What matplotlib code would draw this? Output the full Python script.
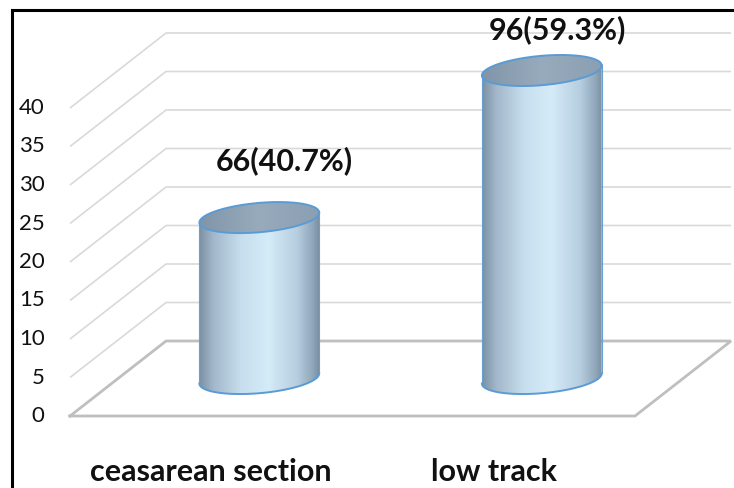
import numpy as np
import matplotlib
matplotlib.use("Agg")
import matplotlib.pyplot as plt
from matplotlib.patches import Polygon
from matplotlib.colors import LinearSegmentedColormap
from matplotlib.lines import Line2D

# data
categories = ["ceasarean section", "low track"]
heights = [20.9, 40.0]
bar_labels = ["66(40.7%)", "96(59.3%)"]
y_ticks = [0, 5, 10, 15, 20, 25, 30, 35, 40]

# layout (x in category units, y in value units)
DX, DY = 0.34, 9.74        # oblique depth offset
R = 0.212                  # cylinder radius (x units)
EH, ES = 1.91, 0.65        # ellipse half height and shear (y units)
label_offsets = [(0.09, 7.35), (0.056, 5.3)]

fig = plt.figure(figsize=(7.34, 4.88), dpi=100)
ax = fig.add_axes([0, 0, 1, 1])
ax.axis("off")

# walls / gridlines
for v in y_ticks[1:]:
    ax.plot([0, DX, 2 + DX], [v, v + DY, v + DY], color="#d9d9d9", lw=1.2,
             solid_capstyle="butt", zorder=1)
ax.plot([0, DX, 2 + DX, 2, 0], [0, DY, DY, 0, 0], color="#bfbfbf", lw=2.0,
        solid_joinstyle="miter", zorder=1)

for v in y_ticks:
    ax.text(-0.09, v, str(v), ha="right", va="center", fontsize=16,
            family="Lato", color="#111111")

body_cmap = LinearSegmentedColormap.from_list("body", [
    (0.0, "#7a90a3"), (0.12, "#a3b8ca"), (0.35, "#c6deee"), (0.58, "#d5ebf8"),
    (0.82, "#b6cee0"), (0.95, "#90a6b9"), (1.0, "#7a90a3")])
cap_cmap = LinearSegmentedColormap.from_list("cap", [
    (0.0, "#8195a8"), (0.5, "#97abbd"), (1.0, "#8b9fb2")])
grad = np.linspace(0, 1, 256).reshape(1, -1)

t = np.linspace(0, 2 * np.pi, 200)
for i, h in enumerate(heights):
    cx = i + 0.5 + DX / 2
    base = DY / 2
    top = h + DY / 2
    # lower half of bottom ellipse (left -> right), upper half of top (right -> left)
    tb = np.linspace(np.pi, 2 * np.pi, 100)
    tt = np.linspace(0, np.pi, 100)
    bx = cx + R * np.cos(tb)
    by = base + ES * np.cos(tb) + EH * np.sin(tb)
    tx = cx + R * np.cos(tt)
    ty = top + ES * np.cos(tt) + EH * np.sin(tt)
    body = Polygon(np.column_stack([np.r_[bx, tx], np.r_[by, ty]]),
                   closed=True, facecolor="none", edgecolor="none")
    ax.add_patch(body)
    im = ax.imshow(grad, cmap=body_cmap, aspect="auto", interpolation="bilinear",
                   extent=[cx - R, cx + R, base - EH - 1, top + EH + 1], zorder=3)
    im.set_clip_path(body)
    # side edges
    ax.plot([cx - R, cx - R], [base - ES, top - ES], color="#6a9fd2", lw=0.8, zorder=4)
    ax.plot([cx + R, cx + R], [base + ES, top + ES], color="#6a9fd2", lw=0.8, zorder=4)
    ax.plot(bx, by, color="#5b9bd5", lw=1.4, zorder=4)
    # top cap
    cap_xy = np.column_stack([cx + R * np.cos(t), top + ES * np.cos(t) + EH * np.sin(t)])
    cap = Polygon(cap_xy, closed=True, facecolor="none", edgecolor="none")
    ax.add_patch(cap)
    imc = ax.imshow(grad, cmap=cap_cmap, aspect="auto", interpolation="bilinear",
                    extent=[cx - R, cx + R, top - EH - 1, top + EH + 1], zorder=5)
    imc.set_clip_path(cap)
    ax.plot(cap_xy[:, 0], cap_xy[:, 1], color="#5b9bd5", lw=1.4, zorder=6)

    ox, oy = label_offsets[i]
    ax.text(cx + ox, top + oy, bar_labels[i], ha="center", va="center",
            fontsize=22, fontweight="bold", family="Lato", color="#111111", zorder=7)
    ax.text(i + 0.5, -7.3, categories[i], ha="center", va="center",
            fontsize=22, fontweight="bold", family="Lato", color="#111111")

ax.set_xlim(-70 / 282.5, 664 / 282.5)
ax.set_ylim(-72 / 7.7, 416 / 7.7)

# chart frame (only left and top edges visible)
fig.add_artist(Line2D([12 / 734, 12 / 734], [0, 1 - 10 / 488], color="black", lw=2.2))
fig.add_artist(Line2D([12 / 734, 1], [1 - 10 / 488, 1 - 10 / 488], color="black", lw=2.2))

fig.savefig("out.png", dpi=100)
